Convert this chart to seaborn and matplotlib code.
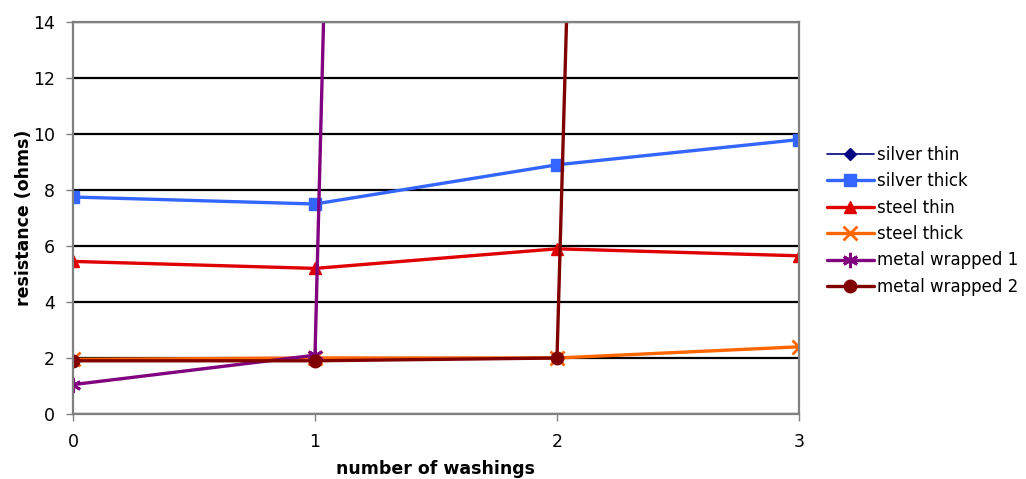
import numpy as np
import pandas as pd
import matplotlib
matplotlib.use("Agg")
import matplotlib.pyplot as plt
from matplotlib.lines import Line2D
import seaborn as sns

washings = [0, 1, 2, 3]
silver_thin = [np.nan, np.nan, np.nan, np.nan]
silver_thick = [7.75, 7.5, 8.9, 9.8]
steel_thin = [5.45, 5.2, 5.9, 5.65]
steel_thick = [1.95, 2.0, 2.0, 2.4]
metal_wrapped_1 = [1.05, 2.1, 340.0, np.nan]
metal_wrapped_2 = [1.9, 1.9, 2.0, 308.0]

series = [
    ("silver thin", silver_thin, "#000080", "D", 6, 1.2),
    ("silver thick", silver_thick, "#3366FF", "s", 9, 2.4),
    ("steel thin", steel_thin, "#E00000", "^", 8, 2.4),
    ("steel thick", steel_thick, "#FF6600", "x", 10, 2.4),
    ("metal wrapped 1", metal_wrapped_1, "#800080", (6, 2, 0), 11, 2.4),
    ("metal wrapped 2", metal_wrapped_2, "#800000", "o", 9, 2.4),
]

sns.set_theme(style="white")
plt.rcParams["font.family"] = ["DejaVu Sans"]
plt.rcParams["text.color"] = "black"
plt.rcParams["axes.labelcolor"] = "black"

fig = plt.figure(figsize=(10.26, 4.79), dpi=100)
ax = fig.add_axes([73 / 1026, 1 - 414 / 479, (799 - 73) / 1026, (414 - 22) / 479])

handles = []
for name, vals, color, marker, ms, lw in series:
    mew = 2 if marker in ("x", (6, 2, 0)) else 1
    df = pd.DataFrame({"washings": washings, "resistance": vals})
    if df["resistance"].notna().any():
        sns.lineplot(data=df, x="washings", y="resistance", ax=ax, color=color,
                     marker=marker, markersize=ms, linewidth=lw,
                     markeredgecolor=color, markeredgewidth=mew,
                     estimator=None, sort=False, legend=False)
    handles.append(Line2D([0], [0], color=color, marker=marker, markersize=ms,
                          linewidth=lw, markeredgecolor=color,
                          markeredgewidth=mew, label=name))

ax.set_xlim(0, 3)
ax.set_ylim(0, 14)
ax.set_xticks(washings)
ax.set_yticks(range(0, 15, 2))
ax.yaxis.grid(True, color="black", linewidth=1.6)
ax.xaxis.grid(False)
ax.set_axisbelow(True)
for side in ["left", "bottom", "top", "right"]:
    ax.spines[side].set_visible(True)
    ax.spines[side].set_color("#808080")
    ax.spines[side].set_linewidth(1.6)

ax.tick_params(axis="both", which="major", labelsize=12.5, labelcolor="black",
               length=5, width=1, direction="out", left=True, bottom=True)
ax.tick_params(axis="x", pad=9, color="#808080")
ax.tick_params(axis="y", pad=8, color="#808080")

ax.set_xlabel("number of washings", fontsize=12.5, fontweight="bold", labelpad=6)
ax.set_ylabel("resistance (ohms)", fontsize=12.5, fontweight="bold", labelpad=0)

fig.legend(handles=handles, loc="upper left", bbox_to_anchor=(812 / 1026, 1 - 131 / 479),
           frameon=False, fontsize=12, handlelength=2.8, handletextpad=0.2,
           labelspacing=0.5)

fig.savefig("out.png", dpi=100)
